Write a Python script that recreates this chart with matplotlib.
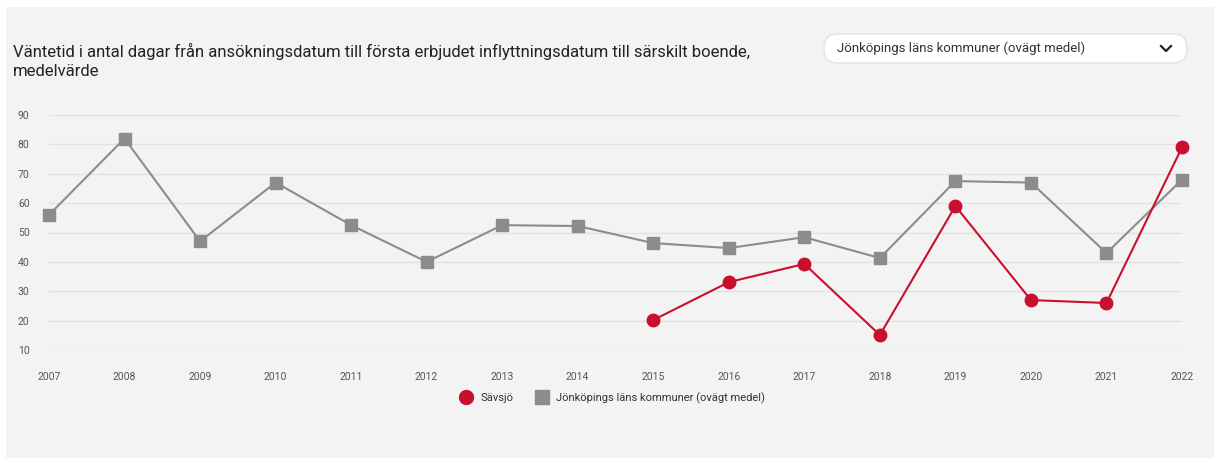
import matplotlib.pyplot as plt
from matplotlib.patches import Rectangle, FancyBboxPatch
from matplotlib.lines import Line2D
from matplotlib.transforms import IdentityTransform

# Data
years = list(range(2007, 2023))
jkpg = [56, 82, 47, 67, 52.5, 40, 52.5, 52.2, 46.4, 44.7, 48.4, 41.3, 67.5, 67, 43, 68]
savsjo_years = [2015, 2016, 2017, 2018, 2019, 2020, 2021, 2022]
savsjo = [20.2, 33.1, 39.3, 15.1, 59, 27, 26, 79]

red = '#c8102e'
grey = '#8c8c8c'
bg = '#f3f3f3'

plt.rcParams['font.family'] = ['Roboto', 'DejaVu Sans']

W, H = 1216, 459
fig = plt.figure(figsize=(W / 100, H / 100), dpi=100)
fig.patch.set_facecolor('white')

# grey panel
fig.add_artist(Rectangle((6 / W, 1 - 458 / H), 1208 / W, 451 / H,
                         transform=fig.transFigure, facecolor=bg, edgecolor='none', zorder=0))

# title
fig.text(13 / W, 1 - 61 / H,
         'Väntetid i antal dagar från ansökningsdatum till första erbjudet inflyttningsdatum till särskilt boende,\nmedelvärde',
         fontsize=12, color='#222222', va='center', ha='left', linespacing=1.35)

# dropdown box (pixel coordinates)
fig.add_artist(FancyBboxPatch((824, H - 63), 363, 29,
                              boxstyle='round,pad=0,rounding_size=14',
                              transform=IdentityTransform(), facecolor='white',
                              edgecolor='#e2e2e2', linewidth=1, zorder=1))
fig.text(837 / W, 1 - 48 / H, 'Jönköpings läns kommuner (ovägt medel)', fontsize=9.5,
         color='#333333', va='center', ha='left', zorder=2)
fig.add_artist(Line2D([1161 / W, 1166 / W, 1171 / W], [1 - 46 / H, 1 - 51 / H, 1 - 46 / H],
                      transform=fig.transFigure, color='#222222', linewidth=1.6, zorder=2))

# plot area: x 2007 -> 49 px, 2022 -> 1182 px ; y 90 -> 115 px, 10 -> 350 px
ax = fig.add_axes([49 / W, 1 - 350 / H, (1182 - 49) / W, (350 - 115) / H])
ax.set_facecolor('none')
ax.set_xlim(2007, 2022)
ax.set_ylim(10, 90)
ax.set_yticks(range(10, 91, 10))
ax.set_xticks(years)
ax.grid(axis='y', color='#e2e2e2', linewidth=1)
ax.set_axisbelow(True)
for s in ax.spines.values():
    s.set_visible(False)
ax.tick_params(length=0, labelsize=7.5, colors='#555555')
ax.tick_params(axis='x', pad=16)
ax.tick_params(axis='y', pad=14)

ax.plot(years, jkpg, color=grey, linewidth=1.5, marker='s', markersize=9,
        markerfacecolor=grey, markeredgecolor=grey, clip_on=False, zorder=3)
ax.plot(savsjo_years, savsjo, color=red, linewidth=1.5, marker='o', markersize=9,
        markerfacecolor=red, markeredgecolor=red, clip_on=False, zorder=4)

handles = [Line2D([], [], color=red, marker='o', linestyle='none', markersize=10),
           Line2D([], [], color=grey, marker='s', linestyle='none', markersize=10)]
fig.legend(handles, ['Sävsjö', 'Jönköpings läns kommuner (ovägt medel)'],
           loc='center', bbox_to_anchor=(610 / W, 1 - 398 / H), ncol=2, frameon=False,
           fontsize=8, handletextpad=0.3, columnspacing=1.5, labelcolor='#333333')

fig.savefig('out.png', dpi=100, facecolor='white')
